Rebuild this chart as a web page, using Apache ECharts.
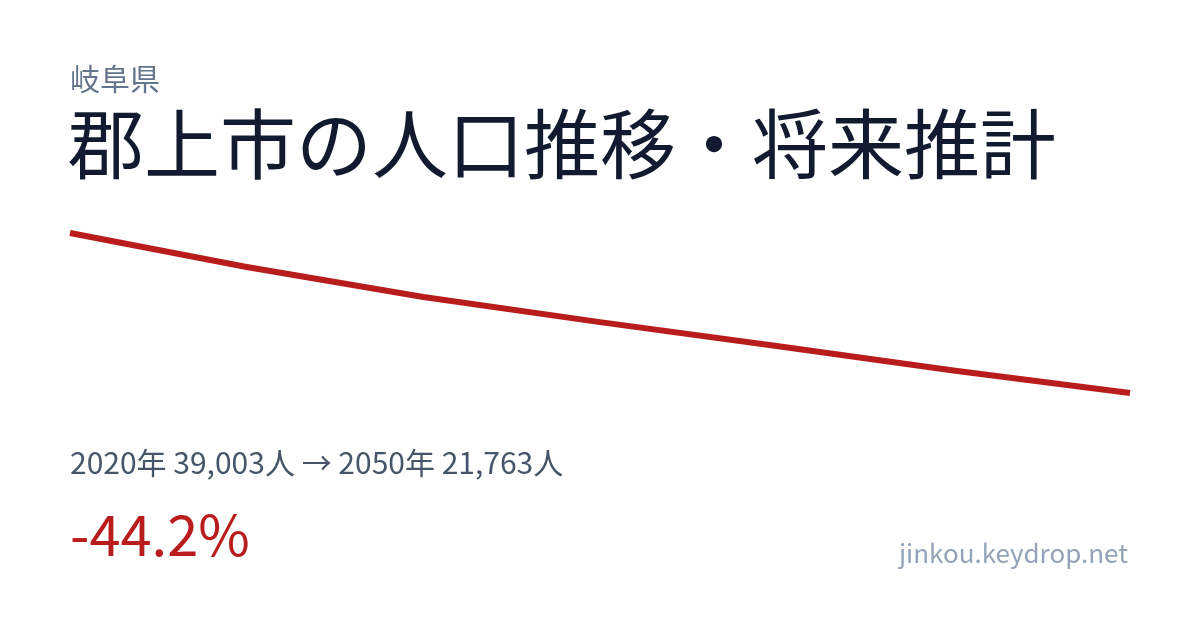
<!DOCTYPE html>
<html>
<head>
<meta charset="utf-8">
<script src="https://cdn.jsdelivr.net/npm/echarts@6/dist/echarts.min.js"></script>
<style>
html,body{margin:0;padding:0;background:#fff;}
#c{width:1200px;height:630px;}
</style>
</head>
<body>
<div id="c"></div>
<script>
const years = ['2020','2025','2030','2035','2040','2045','2050'];
const population = [39003, 35340, 32100, 29400, 26830, 24190, 21763];
const prefecture = '岐阜県';
const titleText = '郡上市の人口推移・将来推計';
const summaryText = '2020年 39,003人 → 2050年 21,763人';
const changeText = '-44.2%';
const siteText = 'jinkou.keydrop.net';

const FONT = '"Noto Sans CJK JP", "Noto Sans", sans-serif';
const chart = echarts.init(document.getElementById('c'), null, {renderer: 'canvas'});
chart.setOption({
  backgroundColor: '#ffffff',
  animation: false,
  grid: {left: 70, right: 70, top: 233, bottom: 237},
  xAxis: {type: 'category', data: years, boundaryGap: false, show: false},
  yAxis: {type: 'value', min: v => v.min, max: v => v.max, show: false},
  series: [{
    type: 'line',
    data: population,
    symbol: 'none',
    lineStyle: {color: '#b91c1c', width: 6, cap: 'butt', join: 'round'}
  }],
  graphic: [
    {type: 'text', left: 70, top: 64, style: {text: prefecture, font: '400 30px ' + FONT, fill: '#64748b'}},
    {type: 'text', left: 68, top: 106, style: {text: titleText, font: '400 76px ' + FONT, fill: '#111a2e'}},
    {type: 'text', left: 70, top: 448, style: {text: summaryText, font: '400 30px ' + FONT, fill: '#475569'}},
    {type: 'text', left: 70, top: 507, style: {text: changeText, font: '400 56px ' + FONT, fill: '#b91c1c'}},
    {type: 'text', right: 72, top: 540, style: {text: siteText, font: '400 26px ' + FONT, fill: '#94a3b8'}}
  ]
});
</script>
</body>
</html>
